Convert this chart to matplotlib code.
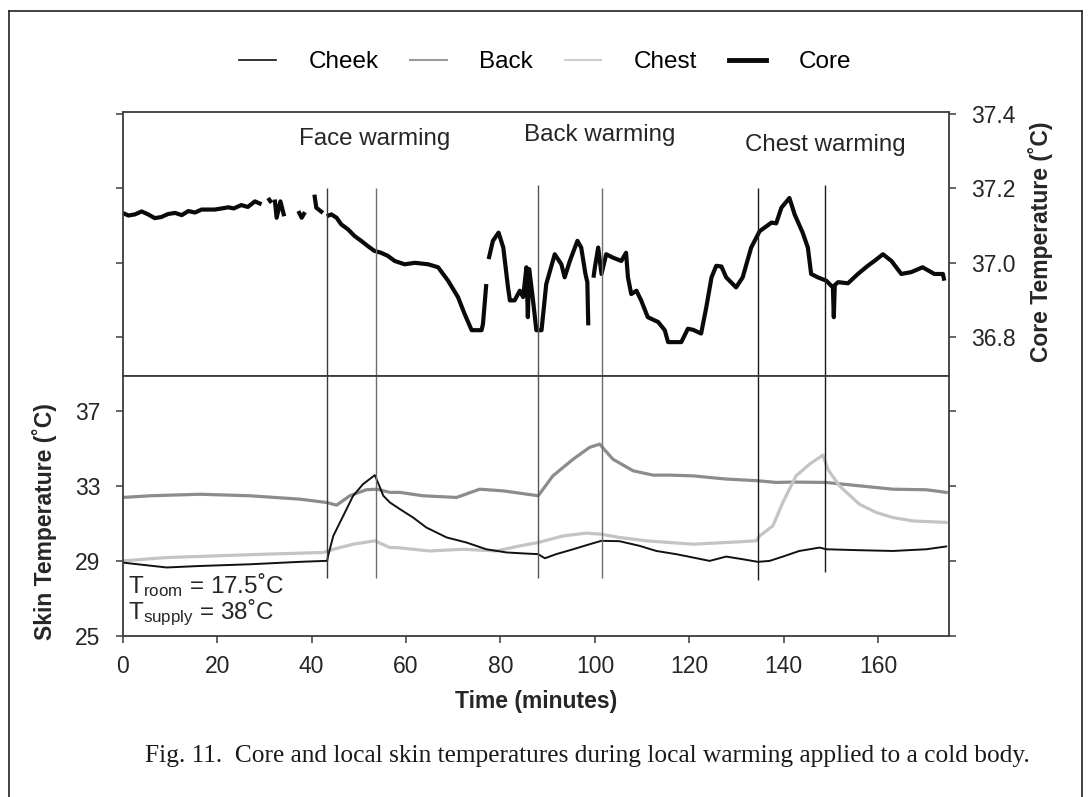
import numpy as np
import matplotlib
matplotlib.use("Agg")
import matplotlib.pyplot as plt
from matplotlib.lines import Line2D

NaN = np.nan

# ---- core temperature (minutes, deg C); NaN marks dropouts in the record ----
core_t = [0, 1.2, 2.6, 4.0, 5.4, 6.8, 8.2, 9.6, 11.1, 12.5, 13.9, 15.3, 16.7, 19.5, 22.4, 23.5,
          25.1, 26.5, 28.0, 29.4, NaN,
          30.8, 31.5, NaN,
          32.2, 32.6, 33.4, 34.2, NaN,
          37.2, 37.9, 38.6, NaN,
          40.6, 41.0, 42.4, NaN,
          43.2, 44.2, 45.3, 46.3, 47.7, 49.1, 50.5, 51.9, 53.3, 54.7, 56.1, 57.6,
          59.7, 61.9, 64.7, 66.8, 68.9, 71.0, 72.4, 73.9, 76.0, 76.3, 77.0, NaN,
          77.5, 78.4, 79.6, 80.6, 81.6, 82.0, 83.0, 84.1, 84.8, 85.5, 85.8, 86.1,
          86.9, 87.6, 88.7, 89.7, 91.5, 92.9, 93.6, 94.7, 96.3, 97.1, 98.0, 98.4,
          98.6, NaN,
          99.7, 100.0, 100.7, 101.4, 102.4, 103.8, 105.6, 106.6, 107.0, 107.7,
          108.8, 109.8, 111.2, 113.4, 114.8, 115.5, 118.3, 119.7, 120.8, 122.5,
          123.6, 124.7, 125.7, 126.8, 127.8, 129.9, 131.3, 133.1, 134.9, 137.4,
          138.4, 139.5, 141.2, 142.3, 144.0, 145.1, 145.8, 147.2, 149.0, 150.4,
          150.6, 150.8, 151.5, 153.6, 155.7, 157.8, 159.2, 161.0, 162.8, 164.9,
          167.0, 169.4, 171.9, 173.7, 174.0]
core_v = [37.134, 37.127, 37.130, 37.138, 37.130, 37.120, 37.123, 37.131, 37.134, 37.128, 37.139, 37.135,
          37.143, 37.143, 37.149, 37.146, 37.155, 37.150, 37.165, 37.157, NaN,
          37.174, 37.161, NaN,
          37.170, 37.121, 37.165, 37.125, NaN,
          37.139, 37.121, 37.136, NaN,
          37.183, 37.148, 37.134, NaN,
          37.125, 37.130, 37.121, 37.103, 37.090, 37.072, 37.059, 37.045, 37.032, 37.027, 37.019, 37.005,
          36.996, 37.000, 36.996, 36.988, 36.952, 36.908, 36.863, 36.819, 36.819, 36.836, 36.943, NaN,
          37.010, 37.059, 37.081, 37.041, 36.934, 36.899, 36.899, 36.925, 36.908, 36.988, 36.854, 36.983,
          36.899, 36.819, 36.819, 36.943, 37.023, 36.996, 36.961, 37.005, 37.059, 37.041, 36.970, 36.948,
          36.832, NaN,
          36.960, 36.988, 37.041, 36.970, 37.023, 37.014, 37.005, 37.027, 36.961, 36.916,
          36.925, 36.899, 36.854, 36.841, 36.819, 36.787, 36.787, 36.823, 36.820, 36.810,
          36.881, 36.961, 36.992, 36.990, 36.961, 36.934, 36.961, 37.041, 37.085, 37.108,
          37.106, 37.148, 37.174, 37.130, 37.081, 37.041, 36.970, 36.961, 36.952, 36.934,
          36.854, 36.940, 36.948, 36.945, 36.970, 36.992, 37.005, 37.023, 37.005, 36.970,
          36.975, 36.988, 36.970, 36.970, 36.952]

# ---- local skin temperatures (minutes, deg C) ----
cheek_t = [0, 9.3, 16.4, 26.9, 37.5, 42.8, 43.3, 43.5, 44.6, 46.7, 48.8, 50.9, 53.4,
           55.2, 56.6, 58.7, 61.5, 64.3, 68.6, 72.8, 77.0, 81.3, 85.5, 88.0, 89.4,
           91.8, 95.4, 98.9, 101.4, 105.2, 109.5, 113.0, 117.2, 120.8, 124.3, 127.8,
           131.3, 134.5, 137.0, 139.8, 143.3, 147.6, 149.0, 156.0, 163.1, 170.2, 174.4]
cheek_v = [28.91, 28.65, 28.73, 28.82, 28.95, 29.00, 29.00, 29.27, 30.33, 31.40, 32.47, 33.09, 33.57,
           32.47, 32.11, 31.76, 31.31, 30.78, 30.25, 29.98, 29.62, 29.45, 29.39, 29.36, 29.14,
           29.36, 29.62, 29.89, 30.07, 30.05, 29.80, 29.53, 29.36, 29.18, 29.00, 29.23,
           29.09, 28.95, 29.00, 29.23, 29.53, 29.71, 29.62, 29.57, 29.53, 29.62, 29.77]

back_t = [0, 5.8, 16.4, 26.9, 37.5, 43.2, 45.3, 48.1, 51.6, 53.8, 56.6, 58.7, 63.6,
          70.7, 75.6, 80.6, 88.0, 91.1, 95.4, 98.9, 101.0, 103.8, 108.1, 112.3,
          115.8, 120.8, 127.8, 134.5, 138.4, 141.9, 149.0, 156.0, 163.1, 170.2, 174.4]
back_v = [32.38, 32.47, 32.55, 32.47, 32.29, 32.11, 31.97, 32.47, 32.79, 32.82, 32.65, 32.65, 32.47,
          32.38, 32.82, 32.73, 32.47, 33.53, 34.42, 35.05, 35.22, 34.42, 33.80, 33.57,
          33.57, 33.53, 33.36, 33.27, 33.18, 33.20, 33.18, 33.00, 32.82, 32.79, 32.65]

chest_t = [0, 9.3, 19.9, 30.5, 42.5, 44.6, 48.8, 53.4, 56.6, 58.0, 65.0, 72.1, 79.1,
           84.1, 88.0, 93.2, 98.2, 101.4, 105.2, 110.9, 115.8, 120.8, 127.8, 134.2,
           134.9, 137.7, 139.8, 142.6, 145.5, 148.3, 149.3, 151.8, 156.0, 159.6,
           163.1, 167.3, 174.4]
chest_v = [29.00, 29.18, 29.27, 29.36, 29.45, 29.62, 29.89, 30.07, 29.71, 29.71, 29.53, 29.62, 29.53,
           29.80, 29.98, 30.33, 30.48, 30.42, 30.25, 30.07, 29.98, 29.89, 29.98, 30.07,
           30.33, 30.87, 32.11, 33.53, 34.16, 34.64, 33.89, 33.00, 32.02, 31.58,
           31.31, 31.13, 31.05]

# start/end of each local warming period (minutes)
warm_t = [43.2, 53.6, 88.0, 101.5, 134.5, 148.8]
warm_core_top = [37.20, 37.20, 37.21, 37.20, 37.20, 37.21]
warm_skin_bottom = [28.1, 28.1, 28.1, 28.1, 28.0, 28.4]
warm_colors = ["#3a3a3a", "#6e6e6e", "#555555", "#6e6e6e", "#1a1a1a", "#1a1a1a"]

x_ticks = [0, 20, 40, 60, 80, 100, 120, 140, 160]
core_ticks = [36.8, 37.0, 37.2, 37.4]
skin_ticks = [25, 29, 33, 37]

phase_labels = ["Face warming", "Back warming", "Chest warming"]
phase_x = [53.4, 101.0, 148.9]
phase_y = [37.333, 37.344, 37.317]

series_names = ["Cheek", "Back", "Chest", "Core"]

plt.rcParams["font.family"] = ["Liberation Sans", "DejaVu Sans"]
plt.rcParams["mathtext.default"] = "regular"

FS = 16.5
frame_col = "#3c3c3c"
txt_col = "#262626"
c_cheek, c_back, c_chest, c_core = "#111111", "#8c8c8c", "#c4c4c4", "#0a0a0a"

fig = plt.figure(figsize=(10.9, 7.97), dpi=100)
ax_top = fig.add_axes([0.11257, 0.52823, 0.7581, 0.33124])
ax_bot = fig.add_axes([0.11257, 0.20201, 0.7581, 0.32622])

for ax in (ax_top, ax_bot):
    ax.set_xlim(0, 175)
    for sp in ax.spines.values():
        sp.set_color(frame_col)
        sp.set_linewidth(1.3)
    ax.tick_params(length=5, width=1.1, color=frame_col, direction="out",
                   labelsize=FS, labelcolor=txt_col)

# core panel
ax_top.set_ylim(36.696, 37.405)
ax_top.set_yticks(core_ticks)
ax_top.set_yticklabels([f"{v:.1f}" for v in core_ticks])
ax_top.tick_params(axis="y", left=True, right=True, labelleft=False,
                   labelright=True, pad=11)
ax_top.tick_params(axis="x", bottom=False, labelbottom=False)
ax_top.plot(core_t, core_v, color=c_core, lw=3.0, solid_joinstyle="round",
            solid_capstyle="butt")
for t, top, col in zip(warm_t, warm_core_top, warm_colors):
    ax_top.vlines(t, 36.696, top, color=col, lw=1.0)
for lab, x, y in zip(phase_labels, phase_x, phase_y):
    ax_top.text(x, y, lab, ha="center", va="center", fontsize=17.4, color=txt_col)

# skin panel
ax_bot.set_ylim(25, 38.85)
ax_bot.set_yticks(skin_ticks)
ax_bot.tick_params(axis="y", left=True, right=True, labelleft=True,
                   labelright=False, pad=11)
ax_bot.set_xticks(x_ticks)
ax_bot.tick_params(axis="x", pad=9)
ax_bot.plot(back_t, back_v, color=c_back, lw=2.3)
ax_bot.plot(chest_t, chest_v, color=c_chest, lw=2.3)
ax_bot.plot(cheek_t, cheek_v, color=c_cheek, lw=1.4)
for t, bot, col in zip(warm_t, warm_skin_bottom, warm_colors):
    ax_bot.vlines(t, bot, 38.85, color=col, lw=1.0)

ax_bot.text(0.007, 0.195, "T$_{room}$ = 17.5˚C", transform=ax_bot.transAxes,
            fontsize=17.5, color=txt_col, va="center", ha="left")
ax_bot.text(0.007, 0.09, "T$_{supply}$ = 38˚C", transform=ax_bot.transAxes,
            fontsize=17.5, color=txt_col, va="center", ha="left")

ax_bot.set_xlabel("Time (minutes)", fontsize=FS, fontweight="bold",
                  color=txt_col, labelpad=8)

fig.text(0.041, 0.346, "Skin Temperature (˚C)", rotation=90, ha="center",
         va="center", fontsize=FS, fontweight="bold", color=txt_col)
fig.text(0.955, 0.697, "Core Temperature (˚C)", rotation=90, ha="center",
         va="center", fontsize=FS, fontweight="bold", color=txt_col)

# legend across the top
handles = [Line2D([], [], color=c_cheek, lw=1.2),
           Line2D([], [], color="#9a9a9a", lw=1.5),
           Line2D([], [], color="#cfcfcf", lw=1.5),
           Line2D([], [], color=c_core, lw=3.5)]
fig.legend(handles, series_names, loc="center", bbox_to_anchor=(0.5, 0.922),
           ncol=4, frameon=False, fontsize=17.5, handlelength=1.5,
           handletextpad=1.35, columnspacing=1.3)

fig.text(0.539, 0.051,
         "Fig. 11.  Core and local skin temperatures during local warming applied to a cold body.",
         ha="center", va="center", fontsize=18.3, family=["Liberation Serif", "DejaVu Serif"],
         color="#1a1a1a")

# page frame
for xs, ys in [([0.008, 0.008], [0.0, 0.986]),
               ([0.008, 0.993], [0.986, 0.986]),
               ([0.993, 0.993], [0.986, 0.0])]:
    fig.add_artist(Line2D(xs, ys, transform=fig.transFigure, color="#222222", lw=1.2))

fig.savefig("out.png", dpi=100, facecolor="white")
